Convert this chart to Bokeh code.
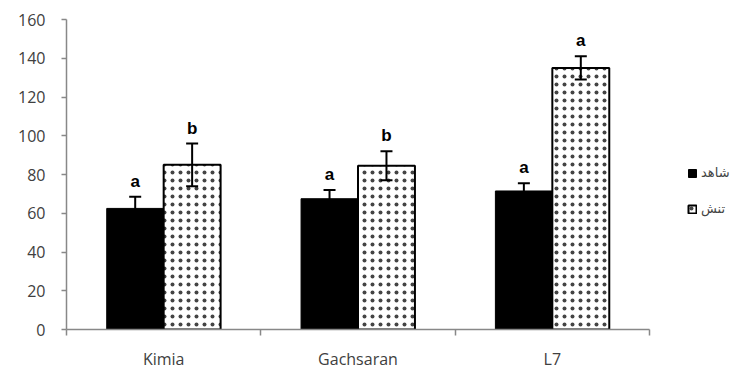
from bokeh.plotting import figure
from bokeh.models import (ColumnDataSource, FixedTicker, Whisker, TeeHead, Legend, LegendItem, Range1d)
from bokeh.core.properties import value
from bokeh.embed import file_html
from bokeh.resources import INLINE

categories = ["Kimia", "Gachsaran", "L7"]
control = [62.5, 67.5, 71.5]
control_err = [6.0, 4.5, 4.0]
stress = [85.0, 84.5, 135.0]
stress_err = [11.0, 7.5, 6.0]
letters_control = ["a", "a", "a"]
letters_stress = ["b", "b", "a"]
legend_labels = ["شاهد", "تنش"]
y_ticks = [0, 20, 40, 60, 80, 100, 120, 140, 160]

n = len(categories)
bw = 0.293
centers = [i + 0.5 for i in range(n)]
xc = [c - bw / 2 for c in centers]
xs = [c + bw / 2 for c in centers]

src_c = ColumnDataSource(dict(x=xc, top=control,
                              upper=[v + e for v, e in zip(control, control_err)],
                              lower=[v - e for v, e in zip(control, control_err)],
                              lab=letters_control))
src_s = ColumnDataSource(dict(x=xs, top=stress,
                              upper=[v + e for v, e in zip(stress, stress_err)],
                              lower=[v - e for v, e in zip(stress, stress_err)],
                              lab=letters_stress))

# frame spans to the right edge so the legend (placed at the right) is not clipped;
# the x axis itself is bounded to the three categories
p = figure(width=740, height=372, output_backend="svg", toolbar_location=None,
           x_range=Range1d(0, n * 674 / 583), y_range=Range1d(0, 160),
           min_border_left=66, min_border_right=0, min_border_top=19, min_border_bottom=35)
p.outline_line_color = None
p.xgrid.visible = False
p.ygrid.visible = False
p.background_fill_color = "white"

r_c = p.vbar(x="x", top="top", width=bw, source=src_c, fill_color="black", line_color="black", line_width=1)
r_s = p.vbar(x="x", top="top", width=bw, source=src_s, fill_color="white", line_color="black", line_width=2,
             hatch_pattern="dot", hatch_color="#444444", hatch_scale=8, hatch_weight=0.8)

for src in (src_c, src_s):
    w = Whisker(source=src, base="x", upper="upper", lower="lower", line_color="black", line_width=2,
                upper_head=TeeHead(size=12, line_color="black", line_width=2),
                lower_head=TeeHead(size=12, line_color="black", line_width=2), level="overlay")
    p.add_layout(w)
    p.text(x="x", y="upper", text="lab", source=src, text_align="center", text_baseline="bottom",
           y_offset=-6, text_font=value("Liberation Sans"), text_font_style="bold", text_font_size="17px",
           text_color="black")

# axes
p.yaxis.ticker = FixedTicker(ticks=y_ticks)
p.yaxis.axis_line_color = "#888888"
p.yaxis.major_tick_line_color = "#888888"
p.yaxis.axis_line_width = 1.5
p.yaxis.major_tick_line_width = 1.5
p.yaxis.major_tick_out = 5
p.yaxis.major_tick_in = 0
p.yaxis.minor_tick_line_color = None
p.yaxis.major_label_standoff = 16
p.yaxis.major_label_text_font = "Open Sans"
p.yaxis.major_label_text_font_size = "16px"
p.yaxis.major_label_text_color = "#404040"

p.xaxis.bounds = (0, n)
p.xaxis.ticker = FixedTicker(ticks=centers, minor_ticks=list(range(n + 1)))
p.xaxis.major_label_overrides = {c: lab for c, lab in zip(centers, categories)}
p.xaxis.axis_line_color = "#888888"
p.xaxis.axis_line_width = 1.5
p.xaxis.major_tick_line_color = None
p.xaxis.minor_tick_line_color = "#888888"
p.xaxis.minor_tick_line_width = 1.5
p.xaxis.minor_tick_out = 6
p.xaxis.minor_tick_in = 0
p.xaxis.major_label_standoff = 12
p.xaxis.major_label_text_font = "Open Sans"
p.xaxis.major_label_text_font_size = "16px"
p.xaxis.major_label_text_color = "#404040"

legend = Legend(items=[LegendItem(label=legend_labels[0], renderers=[r_c]),
                       LegendItem(label=legend_labels[1], renderers=[r_s])],
                location=(621, 113), orientation="vertical",
                glyph_width=10, glyph_height=10, label_height=15, spacing=21,
                label_text_font="DejaVu Sans", label_text_font_size="13px", label_standoff=4,
                border_line_color=None, background_fill_alpha=0, padding=0, margin=0)
p.add_layout(legend, "center")

open("out.html", "w").write(file_html(p, INLINE))
